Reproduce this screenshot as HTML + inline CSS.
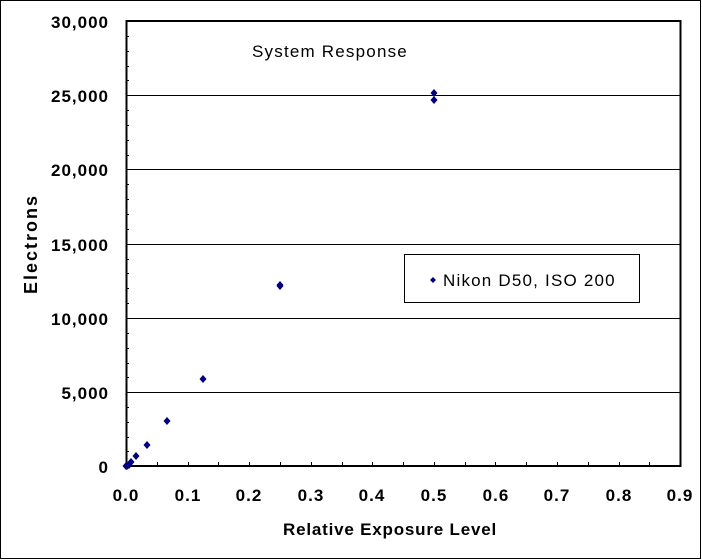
<!DOCTYPE html>
<html><head><style>
html,body{margin:0;padding:0;background:#fff}
svg{display:block}
text{font-family:"Liberation Sans",Arial,sans-serif}
.t{font-size:17px;font-weight:bold;letter-spacing:1px}
</style></head><body>
<svg width="702" height="560" viewBox="0 0 702 560" xmlns="http://www.w3.org/2000/svg">
<rect x="0.5" y="0.5" width="700" height="558" fill="#fff" stroke="#000"/>
<g stroke="#000" stroke-width="1">
<line x1="126" y1="95.5" x2="681" y2="95.5"/>
<line x1="126" y1="169.5" x2="681" y2="169.5"/>
<line x1="126" y1="244.5" x2="681" y2="244.5"/>
<line x1="126" y1="318.5" x2="681" y2="318.5"/>
<line x1="126" y1="392.5" x2="681" y2="392.5"/>
</g>
<g stroke="#000" stroke-width="1">
<line x1="126" y1="36.5" x2="129" y2="36.5"/><line x1="126" y1="51.5" x2="129" y2="51.5"/><line x1="126" y1="66.5" x2="129" y2="66.5"/><line x1="126" y1="80.5" x2="129" y2="80.5"/>
<line x1="126" y1="110.5" x2="129" y2="110.5"/><line x1="126" y1="125.5" x2="129" y2="125.5"/><line x1="126" y1="140.5" x2="129" y2="140.5"/><line x1="126" y1="155.5" x2="129" y2="155.5"/>
<line x1="126" y1="184.5" x2="129" y2="184.5"/><line x1="126" y1="199.5" x2="129" y2="199.5"/><line x1="126" y1="214.5" x2="129" y2="214.5"/><line x1="126" y1="229.5" x2="129" y2="229.5"/>
<line x1="126" y1="259.5" x2="129" y2="259.5"/><line x1="126" y1="273.5" x2="129" y2="273.5"/><line x1="126" y1="288.5" x2="129" y2="288.5"/><line x1="126" y1="303.5" x2="129" y2="303.5"/>
<line x1="126" y1="333.5" x2="129" y2="333.5"/><line x1="126" y1="348.5" x2="129" y2="348.5"/><line x1="126" y1="363.5" x2="129" y2="363.5"/><line x1="126" y1="377.5" x2="129" y2="377.5"/>
<line x1="126" y1="407.5" x2="129" y2="407.5"/><line x1="126" y1="422.5" x2="129" y2="422.5"/><line x1="126" y1="437.5" x2="129" y2="437.5"/><line x1="126" y1="451.5" x2="129" y2="451.5"/>
</g>
<g stroke="#000" stroke-width="1">
<line x1="157.5" y1="462" x2="157.5" y2="466"/><line x1="188.5" y1="462" x2="188.5" y2="466"/><line x1="218.5" y1="462" x2="218.5" y2="466"/><line x1="249.5" y1="462" x2="249.5" y2="466"/>
<line x1="280.5" y1="462" x2="280.5" y2="466"/><line x1="311.5" y1="462" x2="311.5" y2="466"/><line x1="342.5" y1="462" x2="342.5" y2="466"/><line x1="372.5" y1="462" x2="372.5" y2="466"/>
<line x1="403.5" y1="462" x2="403.5" y2="466"/><line x1="434.5" y1="462" x2="434.5" y2="466"/><line x1="465.5" y1="462" x2="465.5" y2="466"/><line x1="495.5" y1="462" x2="495.5" y2="466"/>
<line x1="526.5" y1="462" x2="526.5" y2="466"/><line x1="557.5" y1="462" x2="557.5" y2="466"/><line x1="588.5" y1="462" x2="588.5" y2="466"/><line x1="619.5" y1="462" x2="619.5" y2="466"/>
<line x1="649.5" y1="462" x2="649.5" y2="466"/>
</g>
<rect x="126.5" y="21" width="554" height="445" fill="none" stroke="#000" stroke-width="2"/>
<g fill="#000080">
<path d="M434 89l3.5 4-3.5 4-3.5-4z"/><path d="M434 96l3.5 4-3.5 4-3.5-4z"/>
<path d="M280 281l3.5 4-3.5 4-3.5-4z"/><path d="M280 283l3.5 3-3.5 4-3.5-4z"/>
<path d="M203 375l3.5 4-3.5 4-3.5-4z"/>
<path d="M167 417l3.5 4-3.5 4-3.5-4z"/>
<path d="M147 441l3.5 4-3.5 4-3.5-4z"/>
<path d="M136 452l3.5 4-3.5 4-3.5-4z"/>
<path d="M131 458l3.5 4-3.5 4-3.5-4z"/>
<path d="M129 461l3.5 4-3.5 4-3.5-4z"/>
<path d="M127 462l3.5 4-3.5 4-3.5-4z"/>
<path d="M126 462l3.5 4-3.5 4-3.5-4z"/>
</g>
<g text-anchor="end">
<text x="109" y="28" class="t">30,000</text>
<text x="109" y="102" class="t">25,000</text>
<text x="109" y="176" class="t">20,000</text>
<text x="109" y="251" class="t">15,000</text>
<text x="109" y="325" class="t">10,000</text>
<text x="109" y="399" class="t">5,000</text>
<text x="109" y="473" class="t">0</text>
</g>
<g text-anchor="middle">
<text x="126" y="501" class="t">0.0</text>
<text x="188" y="501" class="t">0.1</text>
<text x="249" y="501" class="t">0.2</text>
<text x="311" y="501" class="t">0.3</text>
<text x="372" y="501" class="t">0.4</text>
<text x="434" y="501" class="t">0.5</text>
<text x="496" y="501" class="t">0.6</text>
<text x="557" y="501" class="t">0.7</text>
<text x="619" y="501" class="t">0.8</text>
<text x="680" y="501" class="t">0.9</text>
</g>
<text x="390" y="535" text-anchor="middle" style="font-size:17px;font-weight:bold;letter-spacing:0.8px">Relative Exposure Level</text>
<text transform="translate(37 244) rotate(-90)" text-anchor="middle" style="font-size:18px;font-weight:bold;letter-spacing:2px">Electrons</text>
<text x="252" y="57" style="font-size:17px;letter-spacing:1.2px">System Response</text>
<rect x="404.5" y="254.5" width="235" height="48" fill="#fff" stroke="#000"/>
<path d="M433 277l3 3-3 3-3-3z" fill="#000080"/>
<text x="443" y="286" style="font-size:17px;letter-spacing:1.2px">Nikon D50,  ISO 200</text>
</svg>
</body></html>
